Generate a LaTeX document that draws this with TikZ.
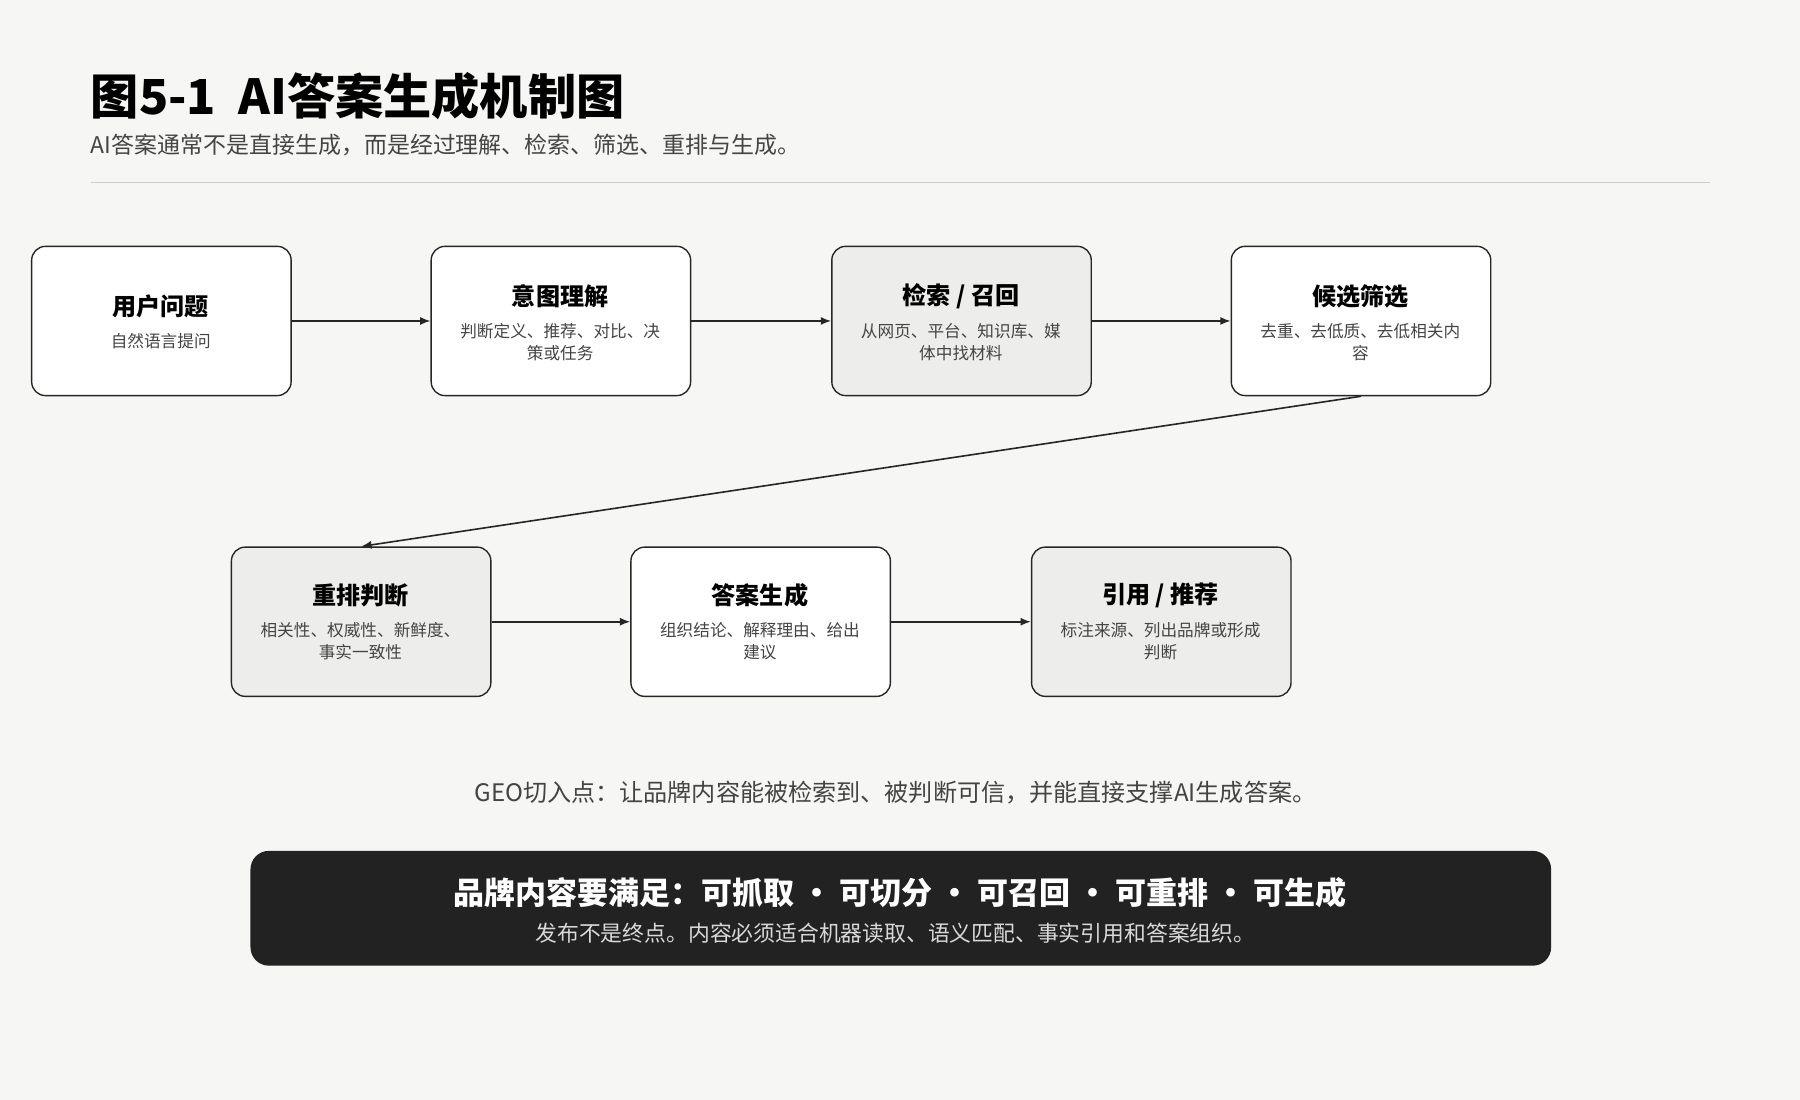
\documentclass[tikz,border=0pt]{standalone}
\usepackage{fontspec}
\setmainfont{Noto Sans CJK SC}
\usetikzlibrary{arrows.meta}
\definecolor{bg}{HTML}{F6F6F4}
\definecolor{gbox}{HTML}{EDEDEB}
\definecolor{dark}{HTML}{222222}
\definecolor{txt}{HTML}{444444}
\begin{document}
\begin{tikzpicture}[x=1pt,y=-1pt,
 box/.style={draw=black!85,line width=1.2pt,rounded corners=12pt,minimum width=226pt,minimum height=130pt,anchor=north west,fill=white},
 gray/.style={box,fill=gbox},
 ttl/.style={font=\fontsize{21}{24}\selectfont\bfseries,anchor=center},
 dsc/.style={font=\fontsize{14.5}{19}\selectfont,text=txt,align=center,anchor=north},
 arr/.style={-{Latex[length=9pt,width=7pt]},line width=1.4pt,draw=black!85}]
\fill[bg] (0,0) rectangle (1568,958);
\useasboundingbox (0,0) rectangle (1568,958);
\node[anchor=base west,font=\fontsize{42}{46}\selectfont\bfseries,inner sep=0] (t) at (79,100) {图5-1\ \ AI答案生成机制图};
\node[anchor=base west,font=\fontsize{20}{24}\selectfont,text=txt,inner sep=0] (st) at (79,134) {AI答案通常不是直接生成，而是经过理解、检索、筛选、重排与生成。};
\draw[black!20,line width=1pt] (79,159) -- (1490,159);
\node[box] (b1) at (27,214) {};
\node[box] (b2) at (375,214) {};
\node[gray] (b3) at (724,214) {};
\node[box] (b4) at (1072,214) {};
\node[gray] (b5) at (201,476) {};
\node[box] (b6) at (549,476) {};
\node[gray] (b7) at (898,476) {};
\node[ttl] at (140,267) {用户问题};
\node[dsc] at (140,287) {自然语言提问};
\node[ttl] at (488,258) {意图理解};
\node[dsc] at (488,278) {判断定义、推荐、对比、决\\策或任务};
\node[ttl] at (837,258) {检索 / 召回};
\node[dsc] at (837,278) {从网页、平台、知识库、媒\\体中找材料};
\node[ttl] at (1185,258) {候选筛选};
\node[dsc] at (1185,278) {去重、去低质、去低相关内\\容};
\node[ttl] at (314,519) {重排判断};
\node[dsc] at (314,539) {相关性、权威性、新鲜度、\\事实一致性};
\node[ttl] at (662,519) {答案生成};
\node[dsc] at (662,539) {组织结论、解释理由、给出\\建议};
\node[ttl] at (1011,519) {引用 / 推荐};
\node[dsc] at (1011,539) {标注来源、列出品牌或形成\\判断};
\draw[arr] (b1.east) -- (b2.west);
\draw[arr] (b2.east) -- (b3.west);
\draw[arr] (b3.east) -- (b4.west);
\draw[arr] (b4.south) -- (b5.north);
\draw[arr] (b5.east) -- (b6.west);
\draw[arr] (b6.east) -- (b7.west);
\node[font=\fontsize{21}{24}\selectfont,text=txt] (geo) at (780,690) {GEO切入点：让品牌内容能被检索到、被判断可信，并能直接支撑AI生成答案。};
\node[fill=dark,rounded corners=16pt,minimum width=1133pt,minimum height=100pt,anchor=north west] (bar) at (218,741) {};
\node[font=\fontsize{27}{30}\selectfont\bfseries,text=white] at (784,778) {品牌内容要满足：可抓取 · 可切分 · 可召回 · 可重排 · 可生成};
\node[font=\fontsize{19}{22}\selectfont,text=black!15] at (780,813) {发布不是终点。内容必须适合机器读取、语义匹配、事实引用和答案组织。};
\end{tikzpicture}
\end{document}
